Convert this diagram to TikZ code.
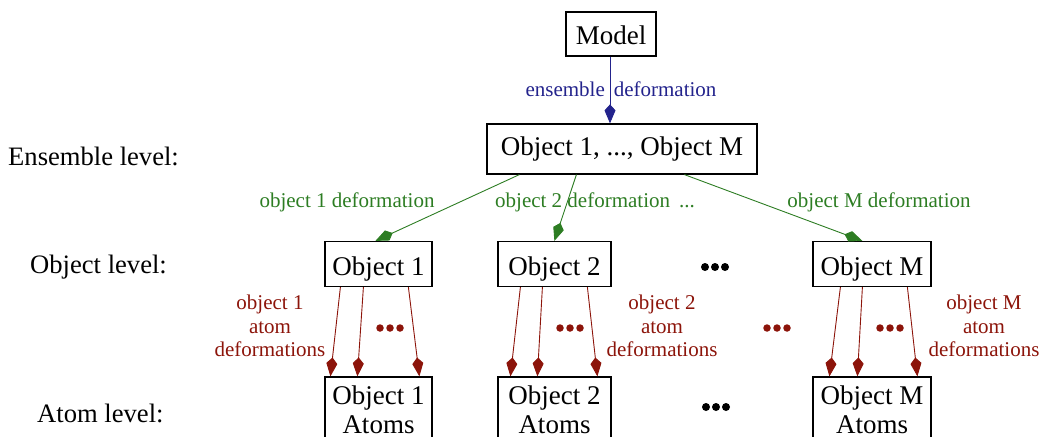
\documentclass[tikz,border=0pt]{standalone}
\usepackage{fontspec}
\setmainfont{Liberation Serif}
\usetikzlibrary{arrows.meta,calc}
\definecolor{ensblue}{RGB}{35,35,140}
\definecolor{objgreen}{RGB}{45,125,35}
\definecolor{atomred}{RGB}{140,20,10}
\tikzset{
  box/.style={draw, line width=1.2pt, inner sep=0pt, align=center,
    font=\fontsize{27}{29}\selectfont},
  lvl/.style={inner sep=0pt, font=\fontsize{26.6}{28}\selectfont},
  elabel/.style={inner sep=0pt, align=center, font=\fontsize{21}{23.5}\selectfont},
  conn/.style={line width=0.9pt, -{Kite[length=19pt,width=11pt,inset=6pt]}},
  ensconn/.style={conn, ensblue},
  objconn/.style={conn, objgreen},
  atomconn/.style={conn, atomred},
  dot/.style={circle, fill, inner sep=0pt, minimum size=#1},
}
\newcommand{\mydots}[4]{% name, x, y, size
  \node[dot=#4] (#1a) at (#2-10,#3) {};
  \node[dot=#4] (#1b) at (#2,#3) {};
  \node[dot=#4] (#1c) at (#2+10,#3) {};
}
\begin{document}
\begin{tikzpicture}[x=1pt,y=-1pt]
\useasboundingbox (0,0) rectangle (1040,436);
\begin{scope}
\clip (0,0) rectangle (1040,436);
% boxes
\node[box, minimum width=90pt, minimum height=44pt, text height=21pt, text depth=0pt] (model) at (611,34) {Model};
\node[box, minimum width=270pt, minimum height=50pt] (ens) at (622,149) {Object 1, ..., Object M};
\node[box, minimum width=107pt, minimum height=45pt, text height=23pt, text depth=0pt] (o1) at (378.5,264) {Object 1};
\node[box, minimum width=113pt, minimum height=45pt, text height=23pt, text depth=0pt] (o2) at (554.5,264) {Object 2};
\node[box, minimum width=118pt, minimum height=45pt, text height=23pt, text depth=0pt] (oM) at (872,264) {Object M};
\node[box, minimum width=107pt, minimum height=65.6pt] (a1) at (378.5,409.8) {Object 1\\Atoms};
\node[box, minimum width=113pt, minimum height=65.6pt] (a2) at (554.5,409.8) {Object 2\\Atoms};
\node[box, minimum width=118pt, minimum height=65.6pt] (aM) at (872,409.8) {Object M\\Atoms};
\end{scope}

% level labels
\node[lvl, anchor=west] (lens) at (8,156) {Ensemble level:};
\node[lvl, anchor=west] (lobj) at (30,267) {Object level:};
\node[lvl, anchor=west] (latom) at (37,413) {Atom level:};

% ensemble edge
\draw[ensconn] ($(model.south)+(-1,0)$) -- ($(ens.north)+(-12,0)$);
\node[elabel, text=ensblue] (lblens) at (621,89) {ensemble\hspace{9pt}deformation};

% object edges
\draw[objconn] ($(ens.south west)+(33,0)$) -- ($(o1.north west)+(51,0)$);
\draw[objconn] ($(ens.south west)+(90,0)$) -- ($(o2.north west)+(57,0)$);
\draw[objconn] ($(ens.south west)+(198,0)$) -- ($(oM.north west)+(50,0)$);
\node[elabel, text=objgreen] (lbl1) at (347,202) {object 1 deformation};
\node[elabel, text=objgreen] (lbl2) at (595,202) {object 2 deformation\hspace{9pt}...};
\node[elabel, text=objgreen] (lblM) at (879,202) {object M deformation};

% atom edges
\draw[atomconn] ($(o1.south west)+(16,0)$) -- ($(a1.north west)+(6,0)$);
\draw[atomconn] ($(o1.south west)+(39,0)$) -- ($(a1.north west)+(33,0)$);
\draw[atomconn] ($(o1.south west)+(84,0)$) -- ($(a1.north west)+(95,0)$);
\draw[atomconn] ($(o2.south west)+(23,0)$) -- ($(a2.north west)+(13,0)$);
\draw[atomconn] ($(o2.south west)+(45,0)$) -- ($(a2.north west)+(40,0)$);
\draw[atomconn] ($(o2.south west)+(90,0)$) -- ($(a2.north west)+(100,0)$);
\draw[atomconn] ($(oM.south west)+(28,0)$) -- ($(aM.north west)+(17,0)$);
\draw[atomconn] ($(oM.south west)+(50,0)$) -- ($(aM.north west)+(45,0)$);
\draw[atomconn] ($(oM.south west)+(95,0)$) -- ($(aM.north west)+(105,0)$);

\node[elabel, text=atomred] (lbla1) at (270,326) {object 1\\atom\\deformations};
\node[elabel, text=atomred] (lbla2) at (662,326) {object 2\\atom\\deformations};
\node[elabel, text=atomred] (lblaM) at (984,326) {object M\\atom\\deformations};

% dots
\begin{scope}[atomred]
\mydots{d1}{390}{328}{7.5pt}
\mydots{d2}{570}{328}{7.5pt}
\mydots{dM}{890}{328}{7.5pt}
\mydots{dm}{777}{328}{7.5pt}
\end{scope}
\mydots{kb1}{715}{267}{8pt}
\mydots{kb2}{716}{407}{8pt}
\end{tikzpicture}
\end{document}
